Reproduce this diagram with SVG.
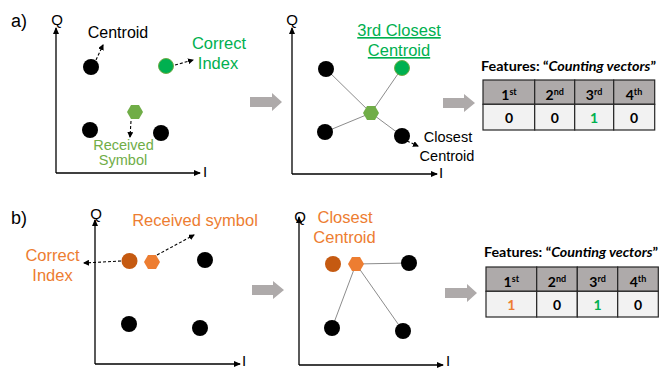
<svg xmlns="http://www.w3.org/2000/svg" width="659" height="370" viewBox="0 0 659 370">
  <style>
    .lbl { font-family: "Liberation Sans", Arial, sans-serif; text-anchor: middle; }
    .panel { font-family: "Liberation Sans", Arial, sans-serif; font-size: 18px; fill: #000; }
    .axlbl { font-family: "Liberation Sans", Arial, sans-serif; font-size: 15px; fill: #000; text-anchor: middle; }
    .axis { stroke: #000; stroke-width: 1.3; fill: none; marker-end: url(#axHead); }
    .dash { stroke: #000; stroke-width: 1.1; stroke-dasharray: 3 2; fill: none; marker-end: url(#dashHead); }
    .link { stroke: #8c8c8c; stroke-width: 1; fill: none; }
    .dot { fill: #000; }
    .step { fill: #aeaaaa; }
    .tbl { font-family: Lato, "Noto Sans", sans-serif; font-weight: bold; font-size: 14px; text-anchor: middle; fill: #000; }
    .ttl { font-family: Lato, "Noto Sans", sans-serif; font-weight: bold; font-size: 13.5px; fill: #000; }
    .hdr { fill: #aeaaaa; stroke: #262626; stroke-width: 1.2; }
    .row { fill: #f2f2f2; stroke: #262626; stroke-width: 1.2; }
    .green { fill: #00b050; }
    .olive { fill: #70ad47; }
    .orange { fill: #ed7d31; }
  </style>
  <defs>
    <marker id="axHead" markerWidth="7" markerHeight="6" refX="6" refY="3" orient="auto" markerUnits="userSpaceOnUse">
      <path d="M0,0 L7,3 L0,6 Z" fill="#000"/>
    </marker>
    <marker id="dashHead" markerWidth="6" markerHeight="6" refX="5" refY="3" orient="auto" markerUnits="userSpaceOnUse">
      <path d="M0,0 L6,3 L0,6 Z" fill="#000"/>
    </marker>
    <polygon id="hex" points="-8,0 -4,-7 4,-7 8,0 4,7 -4,7"/>
  </defs>

  <!-- panel captions -->
  <text class="panel" x="11" y="27">a)</text>
  <text class="panel" x="11" y="224">b)</text>

  <!-- ===== a) received symbol in the constellation ===== -->
  <g id="a1-axes">
    <line class="axis" x1="56" y1="173" x2="56" y2="28"/>
    <line class="axis" x1="56" y1="173" x2="200" y2="173"/>
    <text class="axlbl" x="57" y="25">Q</text>
    <text class="axlbl" x="205" y="177">I</text>
  </g>
  <g id="a1-c1"><circle class="dot" cx="91" cy="67" r="8"/></g>
  <g id="a1-c2"><circle cx="166" cy="66" r="7.5" fill="#00b050" stroke="#70ad47" stroke-width="1"/></g>
  <g id="a1-c3"><circle class="dot" cx="90" cy="130" r="8"/></g>
  <g id="a1-c4"><circle class="dot" cx="161" cy="133" r="8"/></g>
  <g id="a1-rx"><use href="#hex" x="135" y="112" fill="#70ad47"/></g>
  <g id="a1-labels">
    <text class="lbl" x="118" y="38" font-size="16">Centroid</text>
    <text class="lbl green" x="219" y="49" font-size="16.5">Correct</text>
    <text class="lbl green" x="218" y="69" font-size="16.5">Index</text>
    <text class="lbl olive" x="123.5" y="150" font-size="14.5">Received</text>
    <text class="lbl olive" x="123" y="165" font-size="14.5">Symbol</text>
  </g>
  <g id="a1-pointers">
    <line class="dash" x1="96" y1="60" x2="103" y2="45"/>
    <line class="dash" x1="175" y1="65" x2="193" y2="60"/>
    <line class="dash" x1="131" y1="121" x2="130" y2="137"/>
  </g>

  <g id="a-step1"><polygon class="step" points="250,97 272,97 272,93 282,102 272,111 272,107 250,107"/></g>

  <!-- ===== a) distances to each centroid ===== -->
  <g id="a2-axes">
    <line class="axis" x1="292" y1="174" x2="292" y2="28"/>
    <line class="axis" x1="292" y1="174" x2="437" y2="174"/>
    <text class="axlbl" x="292" y="25">Q</text>
    <text class="axlbl" x="441" y="178">I</text>
  </g>
  <g id="a2-links">
    <line class="link" x1="371" y1="113" x2="326" y2="69"/>
    <line class="link" x1="371" y1="113" x2="402" y2="68"/>
    <line class="link" x1="371" y1="113" x2="325" y2="132"/>
    <line class="link" x1="371" y1="113" x2="402" y2="136"/>
  </g>
  <g id="a2-c1"><circle class="dot" cx="326" cy="69" r="8"/></g>
  <g id="a2-c2"><circle cx="402" cy="68" r="7.5" fill="#00b050" stroke="#70ad47" stroke-width="1"/></g>
  <g id="a2-c3"><circle class="dot" cx="325" cy="132" r="8"/></g>
  <g id="a2-c4"><circle class="dot" cx="402" cy="136" r="8"/></g>
  <g id="a2-rx"><use href="#hex" x="371" y="113" fill="#70ad47"/></g>
  <g id="a2-labels">
    <text class="lbl green" x="399" y="36" font-size="16.5" text-decoration="underline">3rd Closest</text>
    <text class="lbl green" x="399" y="56" font-size="16.5" text-decoration="underline">Centroid</text>
    <text class="lbl" x="448" y="142" font-size="14.5">Closest</text>
    <text class="lbl" x="447" y="161" font-size="14.5">Centroid</text>
  </g>
  <g id="a2-pointers">
    <line class="dash" x1="407" y1="141" x2="418" y2="146"/>
  </g>

  <g id="a-step2"><polygon class="step" points="443,98 464,98 464,94 475,103 464,112 464,108 443,108"/></g>

  <!-- ===== a) counting vector ===== -->
  <g id="a-table">
    <text class="ttl" x="481" y="71" textLength="175" lengthAdjust="spacingAndGlyphs">Features: “<tspan font-style="italic">Counting vectors</tspan>”</text>
    <rect class="hdr" x="483" y="80" width="51.7" height="24.3"/>
    <rect class="hdr" x="534.7" y="80" width="40" height="24.3"/>
    <rect class="hdr" x="574.7" y="80" width="39" height="24.3"/>
    <rect class="hdr" x="613.7" y="80" width="41" height="24.3"/>
    <rect class="row" x="483" y="104.3" width="51.7" height="25.7"/>
    <rect class="row" x="534.7" y="104.3" width="40" height="25.7"/>
    <rect class="row" x="574.7" y="104.3" width="39" height="25.7"/>
    <rect class="row" x="613.7" y="104.3" width="41" height="25.7"/>
    <text class="tbl" x="509" y="100">1<tspan font-size="9" dy="-5">st</tspan></text>
    <text class="tbl" x="554.7" y="100">2<tspan font-size="9" dy="-5">nd</tspan></text>
    <text class="tbl" x="594" y="100">3<tspan font-size="9" dy="-5">rd</tspan></text>
    <text class="tbl" x="634" y="100">4<tspan font-size="9" dy="-5">th</tspan></text>
    <text class="tbl" x="509" y="123">0</text>
    <text class="tbl" x="554.7" y="123">0</text>
    <text class="tbl green" x="594" y="123">1</text>
    <text class="tbl" x="634" y="123">0</text>
  </g>

  <!-- ===== b) received symbol in the constellation ===== -->
  <g id="b1-axes">
    <line class="axis" x1="95" y1="364" x2="95" y2="220"/>
    <line class="axis" x1="95" y1="364" x2="240" y2="364"/>
    <text class="axlbl" x="96" y="219">Q</text>
    <text class="axlbl" x="244" y="366">I</text>
  </g>
  <g id="b1-c1"><circle cx="129.5" cy="261" r="8" fill="#c55a11"/></g>
  <g id="b1-c2"><circle class="dot" cx="205" cy="260" r="8"/></g>
  <g id="b1-c3"><circle class="dot" cx="129" cy="324" r="8"/></g>
  <g id="b1-c4"><circle class="dot" cx="200" cy="328" r="8"/></g>
  <g id="b1-rx"><use href="#hex" x="152" y="262" fill="#ed7d31"/></g>
  <g id="b1-labels">
    <text class="lbl orange" x="195" y="226" font-size="16.5">Received symbol</text>
    <text class="lbl orange" x="52.5" y="261" font-size="16.5">Correct</text>
    <text class="lbl orange" x="52.5" y="281" font-size="16.5">Index</text>
  </g>
  <g id="b1-pointers">
    <line class="dash" x1="157" y1="255" x2="194" y2="235"/>
    <line class="dash" x1="121" y1="261" x2="84" y2="263"/>
  </g>

  <g id="b-step1"><polygon class="step" points="252,285 273,285 273,281 284,290 273,299 273,295 252,295"/></g>

  <!-- ===== b) distances to each centroid ===== -->
  <g id="b2-axes">
    <line class="axis" x1="299" y1="365" x2="299" y2="217"/>
    <line class="axis" x1="299" y1="365" x2="443" y2="365"/>
    <text class="axlbl" x="300" y="222">Q</text>
    <text class="axlbl" x="448" y="366">I</text>
  </g>
  <g id="b2-links">
    <line class="link" x1="356" y1="264" x2="409" y2="263"/>
    <line class="link" x1="356" y1="264" x2="332" y2="328"/>
    <line class="link" x1="356" y1="264" x2="403" y2="331"/>
  </g>
  <g id="b2-c1"><circle cx="333" cy="264" r="8" fill="#c55a11"/></g>
  <g id="b2-c2"><circle class="dot" cx="409" cy="263" r="8"/></g>
  <g id="b2-c3"><circle class="dot" cx="332" cy="328" r="8"/></g>
  <g id="b2-c4"><circle class="dot" cx="403" cy="331" r="8"/></g>
  <g id="b2-rx"><use href="#hex" x="356" y="264" fill="#ed7d31"/></g>
  <g id="b2-labels">
    <text class="lbl orange" x="345" y="223" font-size="16.5">Closest</text>
    <text class="lbl orange" x="344.5" y="243" font-size="16.5">Centroid</text>
  </g>

  <g id="b-step2"><polygon class="step" points="445,288 467,288 467,284 477,293 467,302 467,298 445,298"/></g>

  <!-- ===== b) counting vector ===== -->
  <g id="b-table">
    <text class="ttl" x="484" y="257" textLength="174" lengthAdjust="spacingAndGlyphs">Features: “<tspan font-style="italic">Counting vectors</tspan>”</text>
    <rect class="hdr" x="486" y="267" width="50.7" height="24.3"/>
    <rect class="hdr" x="536.7" y="267" width="40.6" height="24.3"/>
    <rect class="hdr" x="577.3" y="267" width="40.4" height="24.3"/>
    <rect class="hdr" x="617.7" y="267" width="40.6" height="24.3"/>
    <rect class="row" x="486" y="291.3" width="50.7" height="25.7"/>
    <rect class="row" x="536.7" y="291.3" width="40.6" height="25.7"/>
    <rect class="row" x="577.3" y="291.3" width="40.4" height="25.7"/>
    <rect class="row" x="617.7" y="291.3" width="40.6" height="25.7"/>
    <text class="tbl" x="511.3" y="287">1<tspan font-size="9" dy="-5">st</tspan></text>
    <text class="tbl" x="557" y="287">2<tspan font-size="9" dy="-5">nd</tspan></text>
    <text class="tbl" x="597.5" y="287">3<tspan font-size="9" dy="-5">rd</tspan></text>
    <text class="tbl" x="638" y="287">4<tspan font-size="9" dy="-5">th</tspan></text>
    <text class="tbl orange" x="511.3" y="310">1</text>
    <text class="tbl" x="557" y="310">0</text>
    <text class="tbl green" x="597.5" y="310">1</text>
    <text class="tbl" x="638" y="310">0</text>
  </g>
</svg>
